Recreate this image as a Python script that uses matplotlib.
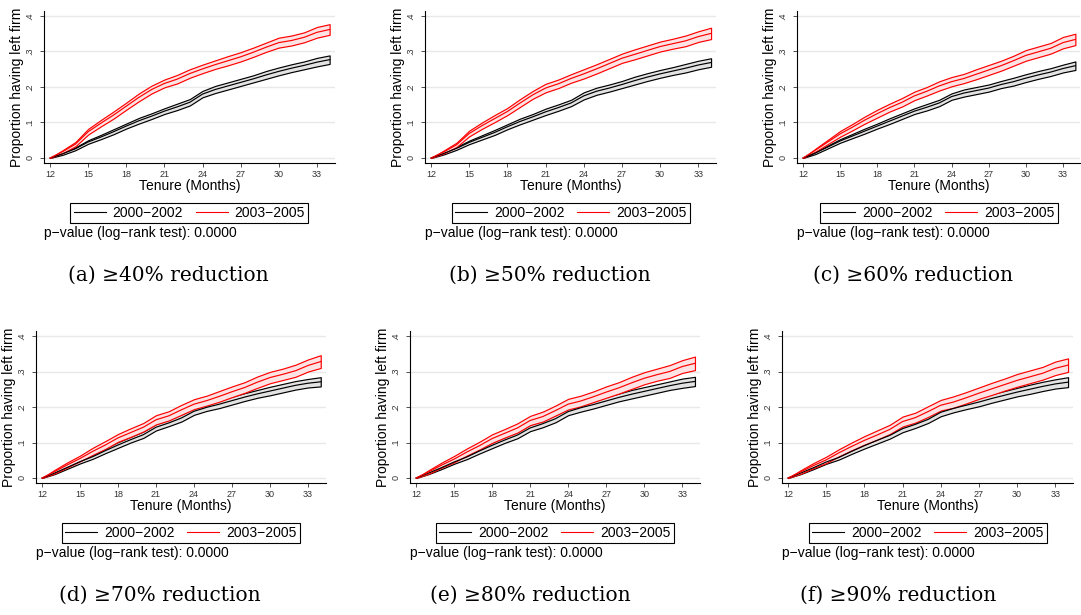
import matplotlib.pyplot as plt

plt.rcParams['font.family'] = ['Liberation Sans', 'DejaVu Sans']

months = list(range(12, 35))
captions = ["(a) ≥40% reduction", "(b) ≥50% reduction", "(c) ≥60% reduction",
            "(d) ≥70% reduction", "(e) ≥80% reduction", "(f) ≥90% reduction"]
group_labels = ["2000−2002", "2003−2005"]
pvalue_text = "p−value (log−rank test): 0.0000"

# Kaplan-Meier failure estimates, 2000-2002 cohort (black)
black_mid_a = [0, .012, .026, .045, .059, .074, .090, .105, .118, .132, .144, .157,
               .180, .193, .203, .213, .223, .234, .244, .253, .261, .270, .277]
black_mid_b = [0, .013, .027, .044, .058, .072, .088, .103, .116, .130, .142, .155,
               .175, .188, .197, .207, .218, .228, .237, .245, .253, .262, .269]
black_mid_c = [0, .014, .031, .048, .062, .076, .090, .104, .118, .132, .143, .155,
               .173, .183, .190, .197, .207, .215, .225, .234, .242, .252, .260]
black_mid_d = [0, .014, .030, .046, .060, .077, .093, .108, .122, .143, .155, .169,
               .188, .199, .208, .218, .228, .237, .245, .253, .261, .267, .271]
black_mid_e = [0, .014, .029, .045, .059, .076, .092, .107, .121, .141, .153, .167,
               .187, .198, .207, .217, .227, .236, .244, .252, .260, .267, .272]
black_mid_f = [0, .014, .029, .045, .058, .075, .091, .106, .120, .139, .151, .165,
               .185, .196, .205, .214, .224, .233, .242, .250, .258, .265, .270]

# 95% band half-widths, 2000-2002 cohort
black_ci_a = [0, .003, .004, .005, .006, .007, .007, .008, .008, .008, .009, .009,
              .009, .010, .010, .010, .010, .011, .011, .011, .011, .012, .012]
black_ci_b = [0, .003, .004, .005, .006, .007, .007, .008, .008, .009, .009, .009,
              .010, .010, .010, .010, .011, .011, .011, .011, .012, .012, .012]
black_ci_c = [0, .003, .004, .005, .006, .007, .007, .008, .008, .008, .009, .009,
              .009, .010, .010, .010, .010, .011, .011, .011, .011, .011, .012]
black_ci_d = [0, .003, .004, .005, .006, .007, .008, .008, .009, .009, .009, .010,
              .010, .010, .011, .011, .011, .011, .012, .012, .012, .012, .013]
black_ci_e = [0, .003, .004, .005, .006, .007, .008, .008, .009, .009, .010, .010,
              .010, .011, .011, .011, .011, .012, .012, .012, .012, .013, .013]
black_ci_f = [0, .003, .004, .005, .006, .007, .008, .009, .009, .010, .010, .010,
              .011, .011, .011, .012, .012, .012, .012, .013, .013, .013, .014]

# Kaplan-Meier failure estimates, 2003-2005 cohort (red)
red_mid_a = [0, .018, .039, .074, .098, .121, .146, .171, .193, .210, .222, .238,
             .251, .263, .274, .285, .298, .312, .325, .331, .340, .354, .362]
red_mid_b = [0, .017, .037, .069, .091, .111, .131, .155, .178, .197, .209, .224,
             .237, .251, .266, .281, .292, .303, .314, .322, .330, .342, .351]
red_mid_c = [0, .022, .045, .068, .087, .107, .125, .142, .157, .175, .188, .203,
             .215, .224, .236, .248, .260, .274, .289, .299, .309, .325, .334]
red_mid_d = [0, .018, .037, .055, .075, .093, .113, .128, .143, .164, .175, .192,
             .208, .218, .230, .243, .255, .270, .283, .292, .302, .317, .328]
red_mid_e = [0, .017, .036, .053, .073, .091, .111, .126, .141, .162, .173, .190,
             .208, .217, .229, .242, .254, .268, .281, .291, .300, .314, .323]
red_mid_f = [0, .017, .035, .051, .071, .089, .106, .121, .137, .159, .170, .187,
             .205, .214, .226, .239, .251, .263, .275, .285, .295, .309, .318]

# 95% band half-widths, 2003-2005 cohort
red_ci_a = [0, .004, .006, .008, .009, .010, .010, .011, .011, .011, .012, .012,
            .012, .012, .013, .013, .013, .013, .014, .014, .014, .015, .015]
red_ci_b = [0, .004, .006, .008, .009, .010, .010, .011, .011, .012, .012, .012,
            .013, .013, .013, .013, .014, .014, .014, .014, .015, .015, .016]
red_ci_c = [0, .004, .006, .008, .009, .010, .011, .011, .012, .012, .012, .013,
            .013, .013, .014, .014, .014, .014, .015, .015, .015, .016, .016]
red_ci_d = [0, .005, .007, .008, .010, .011, .011, .012, .012, .013, .013, .014,
            .014, .014, .015, .015, .015, .016, .016, .016, .017, .017, .018]
red_ci_e = [0, .005, .007, .009, .010, .011, .012, .012, .013, .013, .014, .014,
            .015, .015, .015, .016, .016, .017, .017, .017, .018, .018, .019]
red_ci_f = [0, .005, .007, .009, .010, .011, .012, .013, .013, .014, .014, .015,
            .015, .016, .016, .016, .017, .017, .018, .018, .018, .019, .019]

black_mids = [black_mid_a, black_mid_b, black_mid_c, black_mid_d, black_mid_e, black_mid_f]
black_cis = [black_ci_a, black_ci_b, black_ci_c, black_ci_d, black_ci_e, black_ci_f]
red_mids = [red_mid_a, red_mid_b, red_mid_c, red_mid_d, red_mid_e, red_mid_f]
red_cis = [red_ci_a, red_ci_b, red_ci_c, red_ci_d, red_ci_e, red_ci_f]

W, H = 1081, 615
fig = plt.figure(figsize=(W / 100, H / 100), dpi=100)

# panel layout in pixels: (x of month 12, px per month, y of zero line, caption x)
layout = [(50, 12.71, 158, 168), (431, 12.73, 158, 550), (803, 12.38, 158, 913),
          (42, 12.67, 478, 160), (416, 12.68, 478, 530), (788, 12.73, 478, 898)]
x_lo, x_hi = 11.53, 34.4
y_lo, y_hi = -0.014, 0.415
y_scale = 355

for i in range(6):
    px12, sx, py0, cap_x = layout[i]
    left = px12 - (12 - x_lo) * sx
    width = (x_hi - x_lo) * sx
    top = py0 - y_hi * y_scale
    height = (y_hi - y_lo) * y_scale
    ax = fig.add_axes([left / W, 1 - (top + height) / H, width / W, height / H])

    for mids, cis, col, fill in [(black_mids, black_cis, 'black', '#e3e3e3'),
                                 (red_mids, red_cis, 'red', '#fde3e3')]:
        mid = mids[i]
        lo = [m - c for m, c in zip(mid, cis[i])]
        hi = [m + c for m, c in zip(mid, cis[i])]
        ax.fill_between(months, lo, hi, facecolor=fill, edgecolor=col, lw=0.85)
        ax.plot(months, mid, color=col, lw=0.85)

    ax.set_xlim(x_lo, x_hi)
    ax.set_ylim(y_lo, y_hi)
    ax.set_xticks(range(12, 34, 3))
    ax.set_yticks([0, .1, .2, .3, .4])
    ax.set_yticklabels(['0', '.1', '.2', '.3', '.4'], rotation=90, va='center')
    ax.grid(axis='y', color='#e8e8e8', lw=1)
    ax.set_axisbelow(True)
    ax.spines['top'].set_visible(False)
    ax.spines['right'].set_visible(False)
    ax.spines['left'].set_linewidth(0.8)
    ax.spines['bottom'].set_linewidth(0.8)
    ax.tick_params(labelsize=6.5, length=3, width=0.6, colors='#333333', pad=2)
    ax.tick_params(axis='y', pad=4)
    ax.set_xlabel('Tenure (Months)', fontsize=10, labelpad=0)
    ax.set_ylabel('Proportion having left firm', fontsize=10, labelpad=1)

    cx = left + width / 2
    leg_y = py0 + 55
    ax.legend([plt.Line2D([], [], color='black', lw=0.8),
               plt.Line2D([], [], color='red', lw=0.8)], group_labels,
              ncol=2, loc='center', bbox_to_anchor=(cx / W, 1 - leg_y / H),
              bbox_transform=fig.transFigure, fontsize=10, frameon=True,
              fancybox=False, edgecolor='black', framealpha=1,
              handlelength=2.3, handletextpad=0.5, columnspacing=0.9,
              borderpad=0.25).get_frame().set_linewidth(0.8)
    fig.text(left / W, 1 - (py0 + 75) / H, pvalue_text, fontsize=10,
             ha='left', va='center')
    fig.text(cap_x / W, 1 - (py0 + 117) / H, captions[i],
             family='DejaVu Serif', fontsize=14.5, ha='center', va='center')

fig.savefig('out.png', dpi=100)
